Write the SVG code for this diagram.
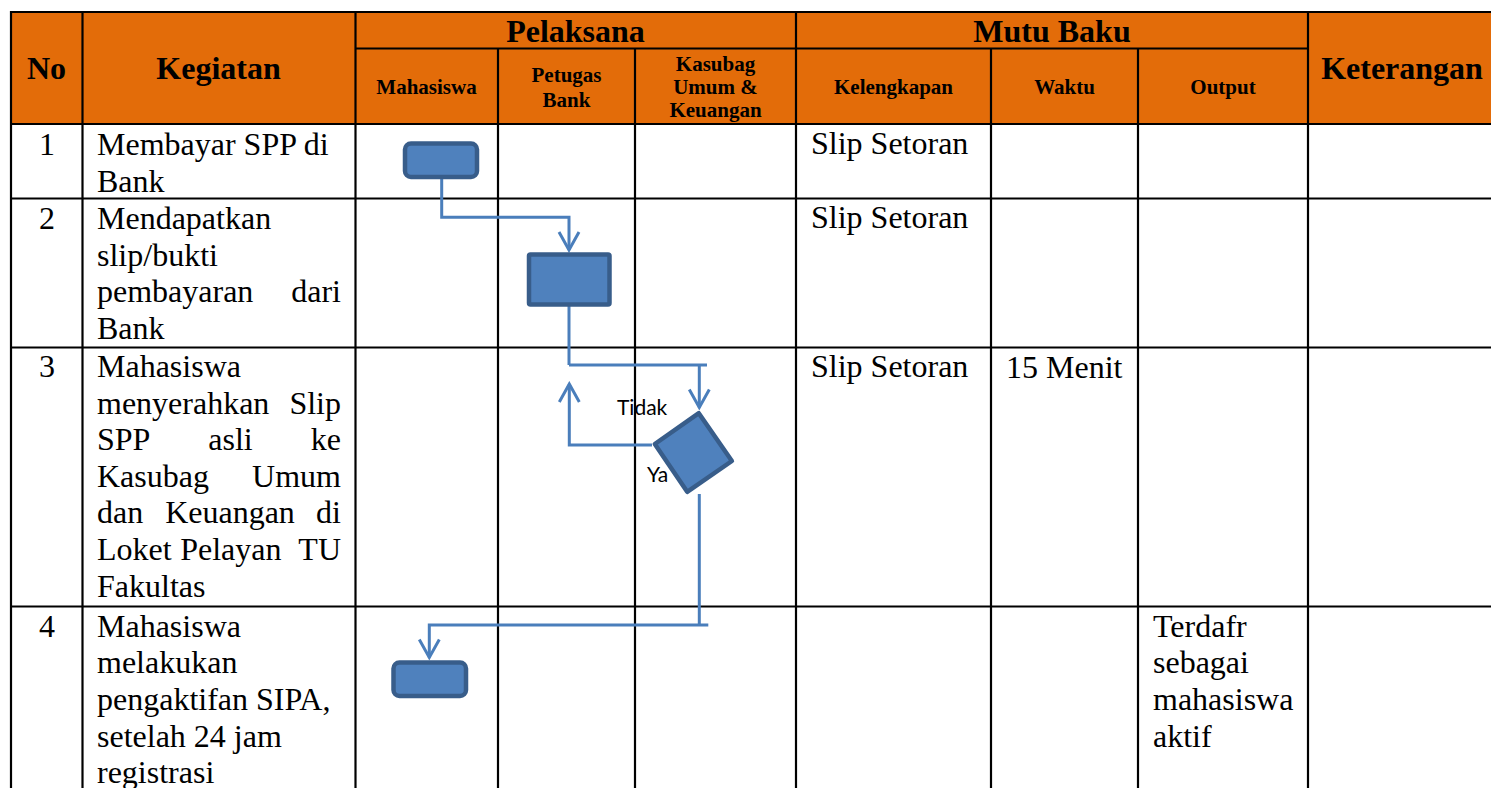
<svg xmlns="http://www.w3.org/2000/svg" width="1491" height="788" viewBox="0 0 1491 788">
<style>
.grid{stroke:#000;stroke-width:2.2;fill:none}
.hd{font-weight:bold;font-size:32px;fill:#000;text-anchor:middle}
.sh{font-weight:bold;font-size:21px;fill:#000;text-anchor:middle}
.tx{font-size:32px;fill:#000}
.mid{text-anchor:middle}
.end{text-anchor:end}
.shape{fill:#4F81BD;stroke:#385D8A;stroke-width:4.5}
.conn{fill:none;stroke:#4A7EBB;stroke-width:3}
.lbl{font-size:21px;fill:#000}
</style>
<defs>
<marker id="arr" viewBox="-21 -12 24 24" markerWidth="24" markerHeight="24" refX="0" refY="0" orient="auto" markerUnits="userSpaceOnUse">
<path d="M-18,-10 L0,0 L-18,10" fill="none" stroke="#4A7EBB" stroke-width="3"/>
</marker>
</defs>
<rect x="0" y="0" width="1491" height="788" fill="#fff"/>
<g id="header">
<rect x="11" y="12" width="1482" height="112" fill="#E36C09"/>
</g>
<g id="grid" class="grid">
<line x1="11" y1="12" x2="1493" y2="12"/>
<line x1="355" y1="48.5" x2="1308" y2="48.5"/>
<line x1="11" y1="124" x2="1493" y2="124"/>
<line x1="11" y1="198.5" x2="1493" y2="198.5"/>
<line x1="11" y1="347.5" x2="1493" y2="347.5"/>
<line x1="11" y1="606.5" x2="1493" y2="606.5"/>
<line x1="11" y1="11" x2="11" y2="788"/>
<line x1="82.5" y1="11" x2="82.5" y2="788"/>
<line x1="355.5" y1="11" x2="355.5" y2="788"/>
<line x1="498" y1="48" x2="498" y2="788"/>
<line x1="635" y1="48" x2="635" y2="788"/>
<line x1="796" y1="11" x2="796" y2="788"/>
<line x1="991" y1="48" x2="991" y2="788"/>
<line x1="1138" y1="48" x2="1138" y2="788"/>
<line x1="1308" y1="11" x2="1308" y2="788"/>
</g>
<g id="header-text" font-family="Liberation Serif, serif">
<text class="hd" x="46.5" y="79">No</text>
<text class="hd" x="218.5" y="79">Kegiatan</text>
<text class="hd" x="575.5" y="42">Pelaksana</text>
<text class="hd" x="1052" y="42">Mutu Baku</text>
<text class="hd" x="1402" y="79">Keterangan</text>
<text class="sh" x="426.5" y="94">Mahasiswa</text>
<text class="sh" x="566.5" y="82">Petugas</text>
<text class="sh" x="566.5" y="106.5">Bank</text>
<text class="sh" x="715.5" y="70.5">Kasubag</text>
<text class="sh" x="715.5" y="94">Umum &amp;</text>
<text class="sh" x="715.5" y="117">Keuangan</text>
<text class="sh" x="893.5" y="94">Kelengkapan</text>
<text class="sh" x="1064.5" y="94">Waktu</text>
<text class="sh" x="1223" y="94">Output</text>
</g>
<g id="row1" font-family="Liberation Serif, serif">
<text class="tx mid" x="47" y="155">1</text>
<text class="tx" x="97" y="155">Membayar SPP di</text>
<text class="tx" x="97" y="191.6">Bank</text>
<text class="tx" x="811" y="154">Slip Setoran</text>
</g>
<g id="row2" font-family="Liberation Serif, serif">
<text class="tx mid" x="47" y="229">2</text>
<text class="tx" x="97" y="229">Mendapatkan</text>
<text class="tx" x="97" y="265.6">slip/bukti</text>
<text class="tx" x="97" y="302.2">pembayaran</text>
<text class="tx end" x="341" y="302.2">dari</text>
<text class="tx" x="97" y="338.8">Bank</text>
<text class="tx" x="811" y="228">Slip Setoran</text>
</g>
<g id="row3" font-family="Liberation Serif, serif">
<text class="tx mid" x="47" y="377">3</text>
<text class="tx" x="97" y="377">Mahasiswa</text>
<text class="tx" x="97" y="413.6">menyerahkan</text>
<text class="tx end" x="341" y="413.6">Slip</text>
<text class="tx" x="97" y="450.2">SPP</text>
<text class="tx mid" x="230.5" y="450.2">asli</text>
<text class="tx end" x="341" y="450.2">ke</text>
<text class="tx" x="97" y="486.8">Kasubag</text>
<text class="tx end" x="341" y="486.8">Umum</text>
<text class="tx" x="97" y="523.4">dan</text>
<text class="tx mid" x="230" y="523.4">Keuangan</text>
<text class="tx end" x="341" y="523.4">di</text>
<text class="tx" x="97" y="560">Loket</text>
<text class="tx mid" x="230.8" y="560">Pelayan</text>
<text class="tx end" x="341" y="560">TU</text>
<text class="tx" x="97" y="596.6">Fakultas</text>
<text class="tx" x="811" y="377">Slip Setoran</text>
<text class="tx" x="1006" y="377.5">15 Menit</text>
</g>
<g id="row4" font-family="Liberation Serif, serif">
<text class="tx mid" x="47" y="636.7">4</text>
<text class="tx" x="97" y="636.7">Mahasiswa</text>
<text class="tx" x="97" y="673.3">melakukan</text>
<text class="tx" x="97" y="709.9">pengaktifan SIPA,</text>
<text class="tx" x="97" y="746.5">setelah 24 jam</text>
<text class="tx" x="97" y="783.1">registrasi</text>
<text class="tx" x="1153" y="636.7">Terdafr</text>
<text class="tx" x="1153" y="673.3">sebagai</text>
<text class="tx" x="1153" y="709.9">mahasiswa</text>
<text class="tx" x="1153" y="746.5">aktif</text>
</g>
<g id="connectors">
<path class="conn" d="M441.7,179 V217.3 H569 V250" marker-end="url(#arr)"/>
<path class="conn" d="M569,306 V365"/>
<path class="conn" d="M569,365 H707"/>
<path class="conn" d="M699.3,365 V407.5" marker-end="url(#arr)"/>
<path class="conn" d="M652,445 H569.3 V384" marker-end="url(#arr)"/>
<path class="conn" d="M699.3,494 V625"/>
<path class="conn" d="M708.3,625 H429.3 V657.5" marker-end="url(#arr)"/>
</g>
<g id="labels" font-family="Lato, Liberation Sans, sans-serif">
<text class="lbl" x="617" y="415">Tidak</text>
<text class="lbl" x="647" y="482">Ya</text>
</g>
<g id="node1"><rect class="shape" x="405" y="143.5" width="72" height="33.5" rx="6"/></g>
<g id="node2"><rect class="shape" x="529" y="254.5" width="80.5" height="50" rx="1.5"/></g>
<g id="node3"><polygon class="shape" points="698.8,413.2 731.9,461 687.2,491.8 654.8,444" stroke-linejoin="round"/></g>
<g id="node4"><rect class="shape" x="393.5" y="662.5" width="72.5" height="33.5" rx="6"/></g>
</svg>
